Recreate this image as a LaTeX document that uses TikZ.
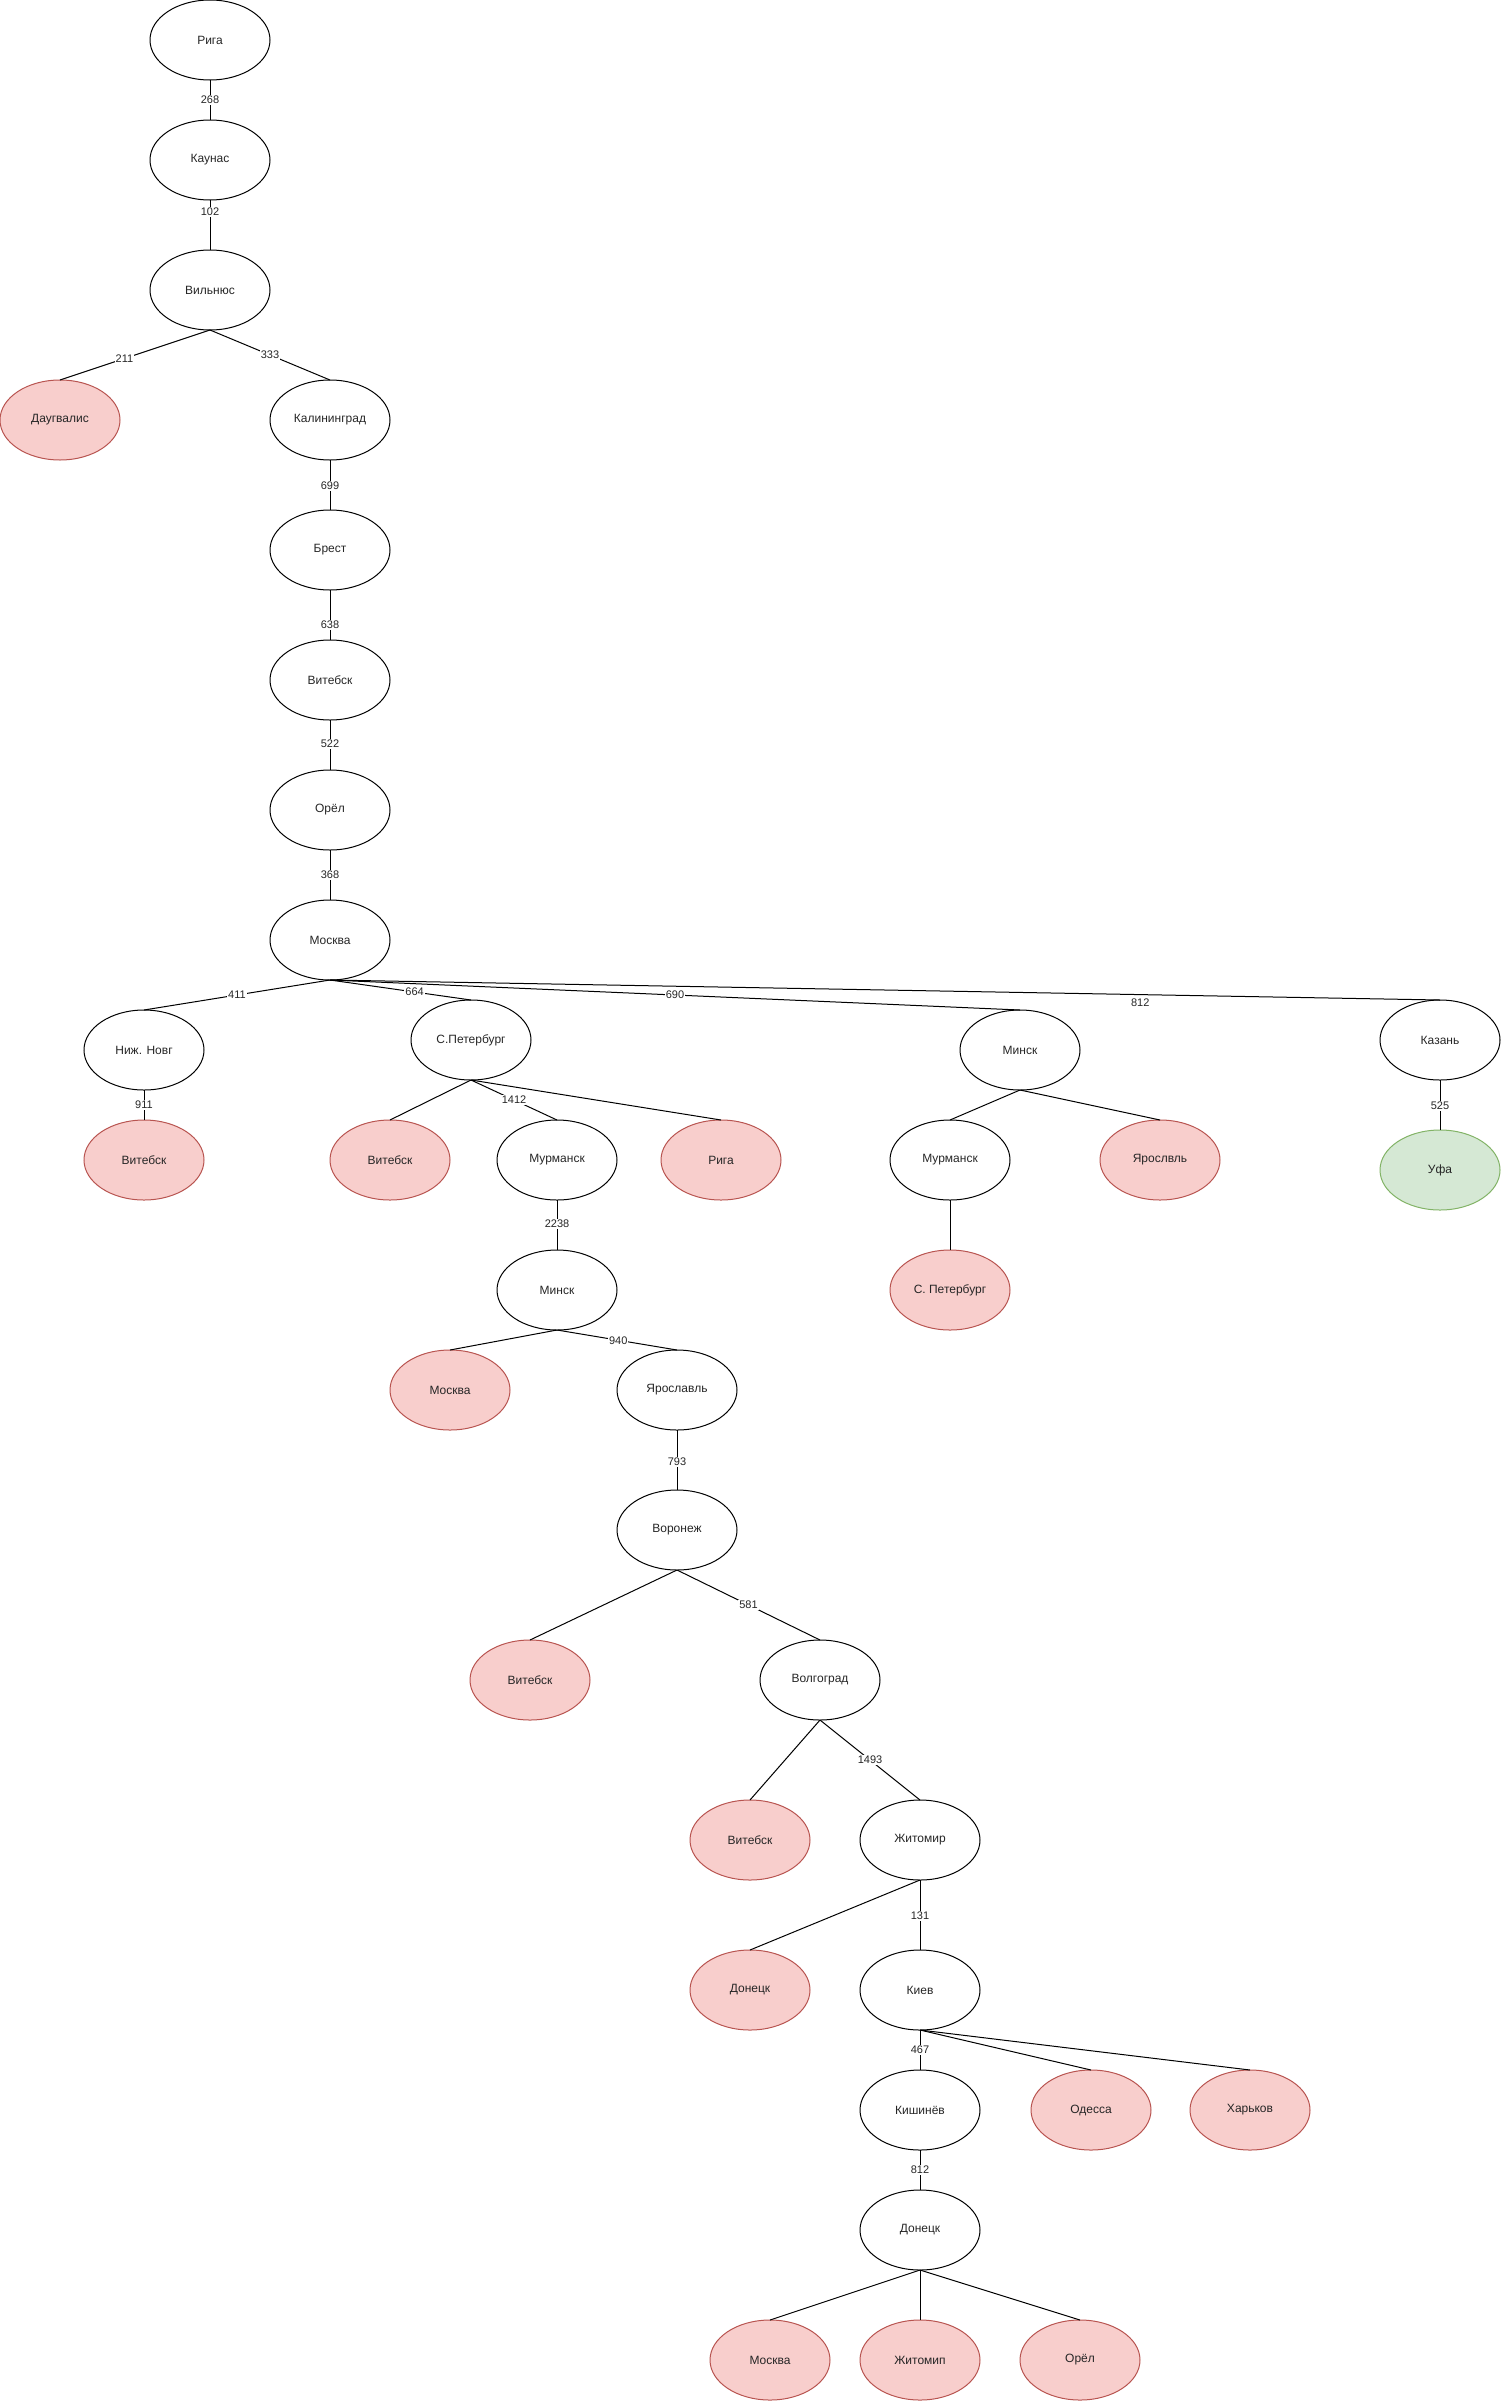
\documentclass[tikz,border=0pt]{standalone}
\usepackage{fontspec}
\setmainfont{Liberation Sans}
\usetikzlibrary{shapes.geometric}
\definecolor{redfill}{HTML}{F8CECC}
\definecolor{redline}{HTML}{B85450}
\definecolor{greenfill}{HTML}{D5E8D4}
\definecolor{greenline}{HTML}{82B366}
\tikzset{
  city/.style={ellipse, draw=black, line width=1pt, minimum width=120pt, minimum height=80pt, inner sep=0pt, outer sep=0pt, font=\fontsize{12}{14}\selectfont, text=black!85},
  visited/.style={city, draw=redline, fill=redfill},
  goal/.style={city, draw=greenline, fill=greenfill},
  conn/.style={draw=black, line width=1pt},
  lbl/.style={fill=white, inner sep=1pt, font=\fontsize{11}{13}\selectfont, text=black!85},
}
\begin{document}
\begin{tikzpicture}[x=1pt,y=-1pt]
\useasboundingbox (0,0) rectangle (1501,2401);
% main chain
\node[city] (riga) at (210,40) {Рига};
\node[city] (kaunas) at (210,160) {Каунас};
\node[city] (vilnius) at (210,290) {Вильнюс};
\node[visited] (daug) at (60,420) {Даугвалис};
\node[city] (kalin) at (330,420) {Калининград};
\node[city] (brest) at (330,550) {Брест};
\node[city] (vit1) at (330,680) {Витебск};
\node[city] (orel1) at (330,810) {Орёл};
\node[city] (msk1) at (330,940) {Москва};
% level under Moscow
\node[city] (nizh) at (144,1050) {Ниж. Новг};
\node[city] (spb) at (471,1040) {С.Петербург};
\node[city] (minskR) at (1020,1050) {Минск};
\node[city] (kazan) at (1440,1040) {Казань};
\node[visited] (vit2) at (144,1160) {Витебск};
\node[visited] (vit3) at (390,1160) {Витебск};
\node[city] (murm1) at (557,1160) {Мурманск};
\node[visited] (riga2) at (721,1160) {Рига};
\node[city] (murm2) at (950,1160) {Мурманск};
\node[visited] (yarR) at (1160,1160) {Ярослвль};
\node[goal] (ufa) at (1440,1170) {Уфа};
\node[visited] (spb2) at (950,1290) {С. Петербург};
\node[city] (minsk2) at (557,1290) {Минск};
\node[visited] (msk2) at (450,1390) {Москва};
\node[city] (yar) at (677,1390) {Ярославль};
\node[city] (voron) at (677,1530) {Воронеж};
\node[visited] (vit4) at (530,1680) {Витебск};
\node[city] (volg) at (820,1680) {Волгоград};
\node[visited] (vit5) at (750,1840) {Витебск};
\node[city] (zhit) at (920,1840) {Житомир};
\node[visited] (don1) at (750,1990) {Донецк};
\node[city] (kiev) at (920,1990) {Киев};
\node[city] (kish) at (920,2110) {Кишинёв};
\node[visited] (odes) at (1091,2110) {Одесса};
\node[visited] (khar) at (1250,2110) {Харьков};
\node[city] (don2) at (920,2230) {Донецк};
\node[visited] (msk3) at (770,2360) {Москва};
\node[visited] (zhit2) at (920,2360) {Житомип};
\node[visited] (orel2) at (1080,2360) {Орёл};
% connectors
\draw[conn] (riga.south) -- node[lbl,pos=0.5] {268} (kaunas.north);
\draw[conn] (kaunas.south) -- node[lbl,pos=0.24] {102} (vilnius.north);
\draw[conn] (vilnius.south) -- node[lbl,pos=0.57] {211} (daug.north);
\draw[conn] (vilnius.south) -- node[lbl,pos=0.5] {333} (kalin.north);
\draw[conn] (kalin.south) -- node[lbl,pos=0.52] {699} (brest.north);
\draw[conn] (brest.south) -- node[lbl,pos=0.7] {638} (vit1.north);
\draw[conn] (vit1.south) -- node[lbl,pos=0.48] {522} (orel1.north);
\draw[conn] (orel1.south) -- node[lbl,pos=0.5] {368} (msk1.north);
\draw[conn] (msk1.south) -- node[lbl,pos=0.5] {411} (nizh.north);
\draw[conn] (msk1.south) -- node[lbl,pos=0.6] {664} (spb.north);
\draw[conn] (msk1.south) -- node[lbl,pos=0.5] {690} (minskR.north);
\draw[conn] (msk1.south) -- node[lbl,pos=0.73,fill=none,yshift=-8pt] {812} (kazan.north);
\draw[conn] (nizh.south) -- node[lbl,pos=0.5] {911} (vit2.north);
\draw[conn] (spb.south) -- (vit3.north);
\draw[conn] (spb.south) -- node[lbl,pos=0.5] {1412} (murm1.north);
\draw[conn] (spb.south) -- (riga2.north);
\draw[conn] (minskR.south) -- (murm2.north);
\draw[conn] (minskR.south) -- (yarR.north);
\draw[conn] (murm2.south) -- (spb2.north);
\draw[conn] (kazan.south) -- node[lbl,pos=0.52] {525} (ufa.north);
\draw[conn] (murm1.south) -- node[lbl,pos=0.48] {2238} (minsk2.north);
\draw[conn] (minsk2.south) -- (msk2.north);
\draw[conn] (minsk2.south) -- node[lbl,pos=0.51] {940} (yar.north);
\draw[conn] (yar.south) -- node[lbl,pos=0.53] {793} (voron.north);
\draw[conn] (voron.south) -- (vit4.north);
\draw[conn] (voron.south) -- node[lbl,pos=0.5] {581} (volg.north);
\draw[conn] (volg.south) -- (vit5.north);
\draw[conn] (volg.south) -- node[lbl,pos=0.5] {1493} (zhit.north);
\draw[conn] (zhit.south) -- (don1.north);
\draw[conn] (zhit.south) -- node[lbl,pos=0.51] {131} (kiev.north);
\draw[conn] (kiev.south) -- node[lbl,pos=0.5] {467} (kish.north);
\draw[conn] (kiev.south) -- (odes.north);
\draw[conn] (kiev.south) -- (khar.north);
\draw[conn] (kish.south) -- node[lbl,pos=0.5] {812} (don2.north);
\draw[conn] (don2.south) -- (msk3.north);
\draw[conn] (don2.south) -- (zhit2.north);
\draw[conn] (don2.south) -- (orel2.north);
\end{tikzpicture}
\end{document}
